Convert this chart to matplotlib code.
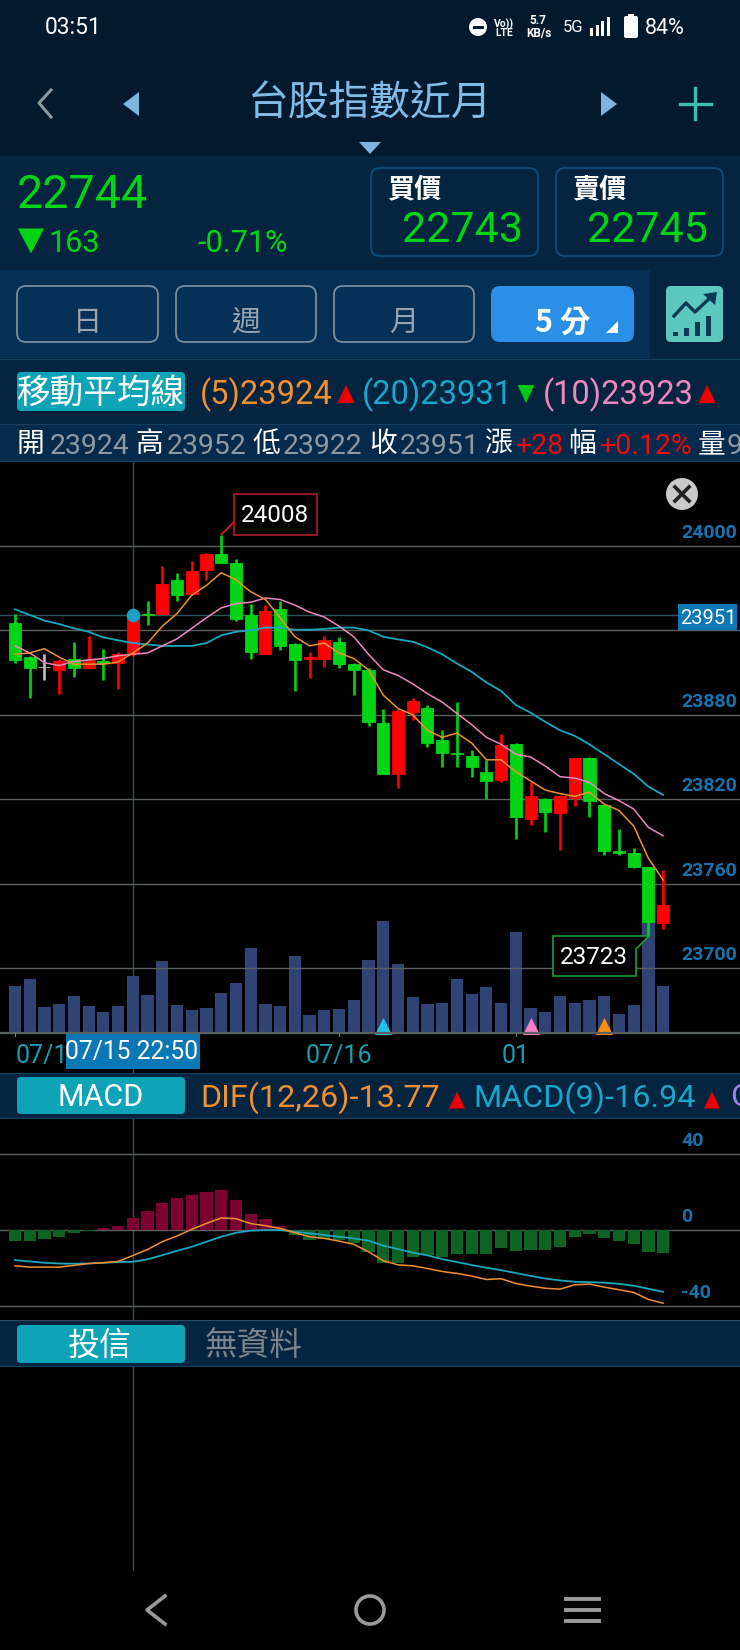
import matplotlib
matplotlib.use("Agg")
import matplotlib.pyplot as plt
from matplotlib.patches import Rectangle, FancyBboxPatch, Polygon, Circle

W, H = 740, 1650
LATIN = ['Roboto', 'DejaVu Sans']
CJK = ['Noto Sans CJK TC', 'DejaVu Sans']

# ---------- data ----------
idx = list(range(45))
opens = [23945, 23921, 23914, 23912, 23920, 23913, 23918, 23917, 23924, 23952, 23952, 23976, 23966, 23983, 23994,
         23988, 23951, 23923.5, 23955, 23930, 23920, 23920, 23932, 23916, 23912, 23874, 23838, 23882, 23885, 23862,
         23853, 23851, 23839, 23834, 23859.5, 23806, 23820, 23810, 23821, 23849, 23816, 23783, 23782, 23772, 23732]
highs = [23952, 23922, 23923, 23920, 23932, 23936, 23927, 23925, 23952, 23961, 23986, 23981, 23989, 23995, 24008,
         23991, 23959, 23958, 23961, 23931, 23925, 23936, 23935, 23917, 23913, 23884, 23884, 23892, 23887, 23869,
         23889, 23855, 23848, 23866, 23860, 23832, 23821, 23823, 23849, 23850, 23816, 23799, 23785, 23772, 23770]
lows = [23917, 23892, 23905, 23895, 23907, 23913, 23905, 23898, 23922, 23944, 23952, 23961, 23965, 23976, 23988,
        23947, 23920, 23923, 23926, 23897, 23906, 23914, 23913, 23894, 23872, 23838, 23828, 23876, 23857, 23843,
        23843, 23836, 23820, 23832, 23792, 23802, 23797, 23784, 23815, 23807, 23780, 23780, 23771, 23723, 23728]
closes = [23919, 23913, 23914, 23918, 23913, 23919, 23917, 23923, 23951, 23951, 23973, 23965, 23982, 23994, 23988,
          23948, 23925, 23954, 23929, 23919, 23921, 23933, 23916, 23912, 23875, 23838, 23883, 23890, 23860, 23853,
          23852, 23843, 23833, 23858.5, 23807, 23822, 23811, 23822, 23849, 23819, 23783, 23781.5, 23772, 23733, 23745]
ma5 = [23923, 23924, 23927, 23921, 23916, 23916, 23916, 23917.5, 23924, 23931, 23943, 23952, 23965, 23972, 23981,
       23976, 23967.5, 23962, 23949, 23935.5, 23929, 23931, 23924, 23920, 23912, 23894, 23884.5, 23880, 23869, 23864,
       23867, 23860, 23848, 23848, 23839.5, 23833, 23826.5, 23824, 23822, 23825, 23816.5, 23812, 23801, 23778, 23762.5]
ma10 = [23929, 23924, 23917, 23915, 23918, 23919, 23920, 23922, 23923, 23924, 23929, 23934, 23941.5, 23949, 23956,
        23959, 23960, 23963, 23962, 23958, 23953, 23949.5, 23943, 23935.5, 23923, 23912, 23908, 23902, 23895, 23889,
        23881, 23873, 23864, 23859, 23852, 23850, 23843.6, 23836, 23835, 23832, 23824, 23819, 23813, 23800, 23794]
ma20 = [23955, 23951, 23947, 23944.5, 23941.5, 23939, 23935, 23933, 23931, 23930, 23929, 23929, 23929, 23931, 23936.5,
        23939, 23940, 23942, 23942, 23940.5, 23940.5, 23941, 23942, 23942, 23940, 23935.5, 23933.6, 23932, 23928, 23923,
        23916.5, 23910.6, 23903, 23897, 23887, 23881.5, 23875, 23869, 23865, 23859, 23852, 23845, 23838, 23829, 23823]
volume = [47.7, 55.3, 27.3, 30, 38.3, 28, 22, 28.3, 58.3, 39, 73.3, 29, 24.3, 26, 41.3, 50.7, 85.7, 29.7, 28.3, 78.3,
          19, 23.7, 25, 34, 74, 113.3, 70, 37, 30, 31, 54.7, 40.3, 47.3, 31, 102.3, 26.3, 22, 38.3, 31, 34.3,
          38.3, 20, 28.7, 113, 48]
osc = [-5.8, -5.8, -4.7, -3.7, -1.9, -0.9, 0.9, 1.9, 6.3, 10, 14.2, 16.5, 18.3, 20, 21, 15.6, 8.4, 5.6, 1.9, -2.8,
       -5.4, -5.1, -5.4, -7.2, -11.6, -17.4, -17.4, -14.2, -13.5, -14.2, -12.6, -12.6, -13, -9.7, -11.1, -10.8, -10.8,
       -9.3, -3.7, -2.3, -4.4, -5.8, -7.4, -11.6, -12.1]
dif = [-19, -19.7, -19.7, -19.7, -18.8, -17.8, -17.4, -16.7, -13.6, -10.4, -6.3, -3.3, 0.2, 3.3, 6.2, 5.8, 3.2, 2.1,
       0.7, -1.6, -3.7, -4.6, -6, -7.7, -11.6, -16.3, -18.5, -19, -20.4, -22, -23, -24.4, -26.2, -25.8, -28.3, -29.7,
       -30.8, -31.3, -29, -28.6, -30.2, -31.6, -33, -36.7, -38.7]
macd = [-16, -16.7, -17.4, -17.8, -17.9, -17.8, -17.4, -17, -16.9, -15.6, -13.4, -11.1, -9, -6.3, -3.7, -1.6, -0.5,
        -0.2, -0.2, -1.1, -1.9, -2.8, -3.7, -4.6, -5.8, -8.4, -10.2, -12.1, -13.5, -15.5, -17, -18.6, -20, -21.3, -22.8,
        -24.3, -25.7, -26.7, -27.4, -27.6, -27.9, -28.5, -29.5, -31.1, -32.7]
price_ticks = [24000, 23880, 23820, 23760, 23700]
price_grid = [24000, 23940, 23880, 23820, 23760, 23700]
macd_ticks = [40, 0, -40]
date_labels = [(0, '07/1'), (22, '07/16'), (34, '01')]
vol_markers = [(25, '#22c3e2'), (35, '#fb7fc1'), (40, '#fb8c10')]
cursor_index = 8
cursor_price = 23951
high_index, high_value = 14, 24008
low_index, low_value = 43, 23723

# ---------- palette ----------
C_UP, C_DN = '#ff0000', '#00d414'
C_ORANGE, C_TEAL, C_PINK = '#f09030', '#1aa6bd', '#ee88c0'
C_TICK = '#1673ad'

fig = plt.figure(figsize=(W / 100, H / 100), dpi=100, facecolor='black')


def px_axes(x0, y0, x1, y1, z):
    a = fig.add_axes([x0 / W, 1 - y1 / H, (x1 - x0) / W, (y1 - y0) / H], zorder=z)
    a.patch.set_alpha(0)
    a.set_xticks([]); a.set_yticks([])
    for s in a.spines.values():
        s.set_visible(False)
    return a


STEP = 14.73
XLIM = (-15 / STEP, (W - 15) / STEP)
TOP, BASE = 462, 1033

bg = px_axes(0, 0, W, H, 0)
bg.set_xlim(0, W); bg.set_ylim(H, 0)
fg = px_axes(0, 0, W, H, 5)
fg.set_xlim(0, W); fg.set_ylim(H, 0)

# crosshair (below the marks)
bg.plot([132.8, 132.8], [462, 1570], color='#2c5360', lw=1.0)
bg.plot([0, 678], [615, 615], color='#2c5360', lw=1.0)

# ---------- volume ----------
va = px_axes(0, 880, W, BASE + 1, 1)
va.set_xlim(*XLIM); va.set_ylim(0, 154)
va.bar(idx, volume, width=0.83, color='#2f4475')
for i, col in vol_markers:
    va.scatter([i], [7.5], marker='^', s=190, color=col, linewidths=0, zorder=4)

# ---------- price ----------
scale = 84.4 / 60
ax = px_axes(0, TOP, W, BASE, 2)
ax.set_xlim(*XLIM)
ax.set_ylim(24000 - (BASE - 546) / scale, 24000 + (546 - TOP) / scale)
for v in price_grid:
    ax.axhline(v, color='#5a5f60', lw=1.0, zorder=1)
ax.axhline(ax.get_ylim()[0], color='#5a5f60', lw=1.6, clip_on=False, zorder=1)
for i, o, h, l, c in zip(idx, opens, highs, lows, closes):
    col = C_UP if c > o else (C_DN if c < o else '#c0c0c0')
    ax.vlines(i, l, h, color=col, lw=1.9, zorder=3)
    ax.bar(i, abs(c - o), bottom=min(o, c), width=0.82, color=col, edgecolor=col, linewidth=0.6, zorder=3)
ax.plot(idx, ma20, color=C_TEAL, lw=1.3, zorder=4)
ax.plot(idx, ma10, color=C_PINK, lw=1.1, zorder=4)
ax.plot(idx, ma5, color=C_ORANGE, lw=1.1, zorder=4)
ax.scatter([cursor_index], [cursor_price], s=95, color='#1aa0c4', zorder=6, linewidths=0)
for v in price_ticks:
    ax.annotate(str(v), (681, v), xycoords=('figure pixels', 'data'), xytext=(0, 9.4), textcoords='offset points',
                color=C_TICK, fontsize=14, fontweight='bold', family=LATIN, ha='left', va='center', zorder=6)

# ---------- MACD ----------
ma = px_axes(0, 1118, W, 1320, 2)
ma.set_xlim(*XLIM)
ma.set_ylim(-(1320 - 1229.7) / 1.9, (1229.7 - 1118) / 1.9)
for v in macd_ticks:
    ma.axhline(v, color='#5a5f60', lw=1.0, zorder=1)
    ma.annotate(str(v), (681, v), xycoords=('figure pixels', 'data'), xytext=(0, 9.4), textcoords='offset points',
                color=C_TICK, fontsize=14, fontweight='bold', family=LATIN, ha='left', va='center', zorder=6)
ma.bar(idx, osc, width=0.83, color=['#7d0032' if v > 0 else '#0d6322' for v in osc], zorder=2)
ma.plot(idx, macd, color=C_TEAL, lw=1.3, zorder=3)
ma.plot(idx, dif, color=C_ORANGE, lw=1.1, zorder=3)


# ---------- UI helpers ----------
def panel(x0, y0, x1, y1, col, z=1):
    fg.add_patch(Rectangle((x0, y0), x1 - x0, y1 - y0, fc=col, ec='none', zorder=z))


def rbox(x0, y0, x1, y1, fc, ec='none', lw=1.2, r=9, z=2):
    fg.add_patch(FancyBboxPatch((x0 + r, y0 + r), x1 - x0 - 2 * r, y1 - y0 - 2 * r,
                                boxstyle=f'round,pad={r}', fc=fc, ec=ec, lw=lw, zorder=z,
                                mutation_aspect=1))


def txt(x, y, s, size, col, ha='left', fam=LATIN, weight='normal', z=4, dy=3):
    fg.text(x, y + dy, s, fontsize=size, color=col, ha=ha, va='center', family=fam, fontweight=weight, zorder=z)


def tri(cx, cy, w, h, col, up=True, z=4):
    s = -1 if up else 1
    fg.add_patch(Polygon([(cx - w / 2, cy - s * h / 2), (cx + w / 2, cy - s * h / 2), (cx, cy + s * h / 2)],
                         fc=col, ec='none', zorder=z))


# ---------- header ----------
panel(0, 0, W, 156, '#03192e')
panel(0, 156, W, 270, '#05243f')
panel(0, 270, W, 358, '#062f55')
panel(650, 270, W, 358, '#05243f')
panel(0, 358, W, 424, '#05243f')
panel(0, 424, W, 461, '#062a4b')
fg.plot([0, W], [358.5, 358.5], color='#14405f', lw=0.8, zorder=2)
fg.plot([0, W], [424, 424], color='#14405f', lw=0.8, zorder=2)
fg.plot([0, W], [461, 461], color='#14405f', lw=0.8, zorder=2)

# status bar
txt(45, 25, '03:51', 16.5, 'white')
fg.add_patch(Circle((478, 27), 9, fc='white', ec='none', zorder=4))
fg.add_patch(Rectangle((472.5, 25.5), 11, 3, fc='#03192e', ec='none', zorder=5))
txt(504, 21, 'Vo))', 7.5, 'white', ha='center', weight='bold')
txt(504, 30, 'LTE', 7.5, 'white', ha='center', weight='bold')
txt(538, 18, '5.7', 8.5, 'white', ha='center', weight='bold')
txt(539, 31, 'KB/s', 8.5, 'white', ha='center', weight='bold')
txt(563, 25, '5G', 12, 'white')
for x, y0 in zip([590, 596, 601, 607], [28, 25, 21, 17]):
    fg.add_patch(Rectangle((x, y0), 3.4, 36 - y0, fc='white', ec='none', zorder=4))
rbox(624, 16, 638, 38, 'white', r=2)
fg.add_patch(Rectangle((628, 13.5), 6, 3, fc='white', ec='none', zorder=4))
txt(645, 25, '84%', 15.5, 'white')

# title row
fg.plot([51, 39, 51], [90, 103, 117], color='#8c98a0', lw=2.2, zorder=4)
fg.add_patch(Polygon([(123, 104), (139, 92), (139, 116)], fc='#7fb6e0', ec='none', zorder=4))
txt(370, 100, '台股指數近月', 29.3, '#7fbce8', ha='center', fam=CJK, dy=4)
fg.add_patch(Polygon([(601, 92), (617, 104), (601, 116)], fc='#7fb6e0', ec='none', zorder=4))
fg.plot([695, 695], [88, 119], color='#3fbfb0', lw=2.4, zorder=4)
fg.plot([680, 711], [104, 104], color='#3fbfb0', lw=2.4, zorder=4)
tri(370, 148, 22, 12, '#7fb6e0', up=False)

# quote
txt(17, 192, '22744', 33.6, '#00d414')
tri(31, 241, 26, 25, '#00d414', up=False)
txt(48, 241, '163', 22, '#00d414')
txt(197, 241, '-0.71%', 22, '#00d414')
rbox(371, 168, 538, 256, 'none', ec='#0f4a78', lw=1.4)
rbox(556, 168, 723, 256, 'none', ec='#0f4a78', lw=1.4)
txt(387, 186, '買價', 19.5, 'white', fam=CJK, weight='bold')
txt(572, 186, '賣價', 19.5, 'white', fam=CJK, weight='bold')
txt(402, 228, '22743', 31, '#00d414')
txt(587, 228, '22745', 31, '#00d414')

# tabs
for (x0, x1), s in zip([(17, 158), (176, 316), (334, 474)], ['日', '週', '月']):
    rbox(x0, 286, x1, 342, '#053058', ec='#7d8d99', lw=1.3)
    txt((x0 + x1) / 2, 320, s, 21, '#98a4ae', ha='center', fam=CJK)
rbox(491, 286, 634, 342, '#2a8fe6')
txt(534, 320, '5', 22, 'white', fam=CJK, weight='bold')
txt(575, 320, '分', 22, 'white', ha='center', fam=CJK, weight='bold')
fg.add_patch(Polygon([(606, 333), (618, 333), (618, 321)], fc='white', ec='none', zorder=4))
rbox(666, 286, 723, 342, '#5cc8c0', r=5)
for x, y0 in zip([675, 686, 697, 708], [332, 328, 322, 316]):
    fg.add_patch(Rectangle((x - 2.5, y0), 5.5, 336 - y0, fc='#0b3a52', ec='none', zorder=4))
fg.plot([674, 686, 695, 712], [316, 303, 312, 296], color='#0b3a52', lw=2.4, zorder=4)
fg.add_patch(Polygon([(703, 294), (717, 292), (715, 305)], fc='#0b3a52', ec='none', zorder=4))

# MA row
rbox(17, 372, 185, 411, '#0fa3b8', r=4)
txt(100, 391, '移動平均線', 24.2, 'white', ha='center', fam=CJK, dy=2)
txt(200, 392, '(5)23924', 23.5, C_ORANGE)
tri(346, 394, 17, 18, '#ee0000')
txt(362, 392, '(20)23931', 23.5, '#1aa6c8')
tri(526, 394, 17, 18, '#00c814', up=False)
txt(543, 392, '(10)23923', 23.5, C_PINK)
tri(707, 394, 17, 18, '#ee0000')

# OHLC row
row = [(17, '開', 'w'), (50, '23924', 'g'), (135, '高', 'w'), (167, '23952', 'g'), (252, '低', 'w'), (283, '23922', 'g'),
       (369, '收', 'w'), (400, '23951', 'g'), (484, '漲', 'w'), (516, '+28', 'r'), (568, '幅', 'w'), (600, '+0.12%', 'r'),
       (698, '量', 'w'), (727, '9', 'g')]
for x, s, k in row:
    if k == 'w':
        txt(x, 442, s, 20, 'white', fam=CJK, dy=2)
    else:
        txt(x, 443, s, 20.5, '#8f99a1' if k == 'g' else '#ee0b0b')

# close button
fg.add_patch(Circle((682, 494), 16, fc='#c9c9c9', ec='none', zorder=4))
fg.plot([675, 689], [487, 501], color='#202020', lw=2.6, zorder=5)
fg.plot([689, 675], [487, 501], color='#202020', lw=2.6, zorder=5)

# current price box
fg.add_patch(Rectangle((678, 604), 59, 26, fc='#0b77b5', ec='none', zorder=3))
txt(708, 615, str(cursor_price), 14.5, 'white', ha='center')

# high / low callouts
fg.add_patch(Polygon([(234, 494), (317, 494), (317, 535), (234, 535), (234, 522), (221, 535), (234, 522)],
                     fc='black', ec='#b01c22', lw=1.2, zorder=3))
txt(275, 513, str(high_value), 17.5, 'white', ha='center')
fg.add_patch(Polygon([(553, 936), (649, 936), (636, 949), (636, 976), (553, 976)],
                     fc='black', ec='#1a9e30', lw=1.2, zorder=3))
txt(594, 955, str(low_value), 17.5, 'white', ha='center')

# date axis
for i, s in date_labels:
    x = 15 + STEP * i
    fg.plot([x, x], [1033, 1036], color='#7d8488', lw=0.8, zorder=3)
    if i == 0:
        txt(16, 1053, s, 18, '#1a9cb0', dy=3)
    else:
        txt(x, 1053, s, 18, '#1a9cb0', ha='center', dy=3)
fg.add_patch(Rectangle((66, 1034), 134, 35, fc='#0b77b5', ec='none', zorder=3))
txt(132, 1049, '07/15 22:50', 17.7, 'white', ha='center', dy=3)

# MACD row
panel(0, 1073, W, 1118, '#05243f')
fg.plot([0, W], [1073, 1073], color='#14405f', lw=0.8, zorder=2)
fg.plot([0, W], [1118, 1118], color='#14405f', lw=0.8, zorder=2)
rbox(17, 1077, 185, 1114, '#0fa3b8', r=4)
txt(101, 1095, 'MACD', 22, 'white', ha='center')
txt(200, 1095, 'DIF(12,26)-13.77', 23.3, C_ORANGE)
tri(457, 1100, 16, 17, '#ee0000')
txt(473, 1095, 'MACD(9)-16.94', 23.3, '#1aa6c8')
tri(712, 1100, 16, 17, '#ee0000')
txt(730, 1095, 'O', 23.3, '#a080e0')

# 投信 row
panel(0, 1320, W, 1366, '#05243f')
fg.plot([0, W], [1320, 1320], color='#2c4a60', lw=0.8, zorder=2)
fg.plot([0, W], [1366, 1366], color='#14405f', lw=0.8, zorder=2)
rbox(17, 1325, 185, 1363, '#0fa3b8', r=4)
txt(100, 1344, '投信', 23, 'white', ha='center', fam=CJK, dy=2)
txt(205, 1344, '無資料', 23.5, '#7b858b', fam=CJK, dy=2)

# nav bar
fg.plot([165, 147, 165], [1596, 1610, 1624], color='#9a9a9a', lw=2.6, zorder=4)
fg.add_patch(Circle((370, 1610), 14, fc='none', ec='#9a9a9a', lw=2.6, zorder=4))
for y in (1599, 1610, 1621):
    fg.plot([566, 599], [y, y], color='#9a9a9a', lw=2.8, zorder=4)

fig.savefig('out.png', dpi=100, facecolor='black')
